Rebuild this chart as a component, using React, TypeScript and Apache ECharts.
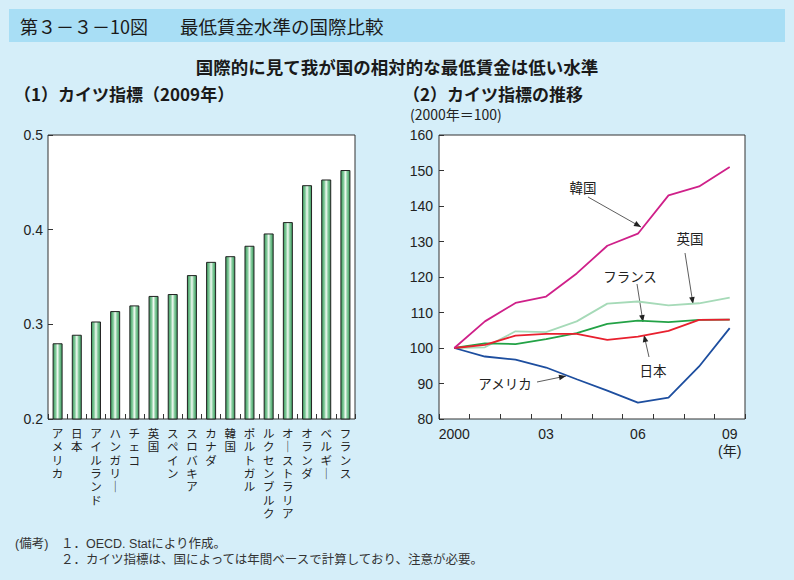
import React, { useEffect, useRef } from "react";
import * as echarts from "echarts";

const countries = [
  "アメリカ", "日本", "アイルランド", "ハンガリー", "チェコ", "英国", "スペイン", "スロバキア",
  "カナダ", "韓国", "ポルトガル", "ルクセンブルク", "オーストラリア", "オランダ", "ベルギー", "フランス",
];
const kaitz2009 = [0.28, 0.289, 0.303, 0.314, 0.32, 0.33, 0.332, 0.352, 0.366, 0.372, 0.383, 0.396, 0.408, 0.447, 0.453, 0.463];

const years = ["2000", "2001", "2002", "2003", "2004", "2005", "2006", "2007", "2008", "2009"];
const yearLabels = ["2000", "", "", "03", "", "", "06", "", "", "09\n(年)"];
const korea = [100, 107.5, 112.7, 114.5, 121.0, 128.8, 132.2, 143.0, 145.5, 151.0];
const uk = [100, 100.2, 104.7, 104.5, 107.5, 112.5, 113.1, 112.0, 112.6, 114.2];
const france = [100, 101.3, 101.1, 102.5, 104.2, 106.8, 107.7, 107.3, 107.9, 108.0];
const japan = [100, 100.9, 103.5, 104.0, 104.0, 102.3, 103.2, 104.8, 107.9, 108.0];
const usa = [100, 97.6, 96.7, 94.5, 91.2, 88.0, 84.6, 86.0, 94.8, 105.6];

const FONT = "'Liberation Sans', 'Noto Sans CJK JP', sans-serif";
const JFONT = "'Noto Sans CJK JP', 'Liberation Sans', sans-serif";

function arrowHead(x1: number, y1: number, x2: number, y2: number) {
  const a = Math.atan2(y2 - y1, x2 - x1);
  const L = 7, W = 2.8;
  const bx = x2 - L * Math.cos(a), by = y2 - L * Math.sin(a);
  return [
    [x2, y2],
    [bx - W * Math.sin(a), by + W * Math.cos(a)],
    [bx + W * Math.sin(a), by - W * Math.cos(a)],
  ];
}

function annotation(label: string, tx: number, ty: number, x1: number, y1: number, x2: number, y2: number) {
  return [
    { type: "text", x: tx, y: ty, style: { text: label, fontSize: 13.5, fontFamily: JFONT, fill: "#222", align: "center", verticalAlign: "middle" } },
    { type: "line", shape: { x1, y1, x2, y2 }, style: { stroke: "#333", lineWidth: 0.8 } },
    { type: "polygon", shape: { points: arrowHead(x1, y1, x2, y2) }, style: { fill: "#222" } },
  ];
}

export default function App() {
  const ref = useRef<HTMLDivElement>(null);
  useEffect(() => {
    if (!ref.current) return;
    const chart = echarts.init(ref.current, undefined, { renderer: "svg" });
    const barGradient = {
      type: "linear", x: 0, y: 0, x2: 1, y2: 0,
      colorStops: [
        { offset: 0, color: "#3a9a5c" },
        { offset: 0.3, color: "#86cc9e" },
        { offset: 0.5, color: "#f2faf3" },
        { offset: 0.7, color: "#86cc9e" },
        { offset: 1, color: "#3a9a5c" },
      ],
    };
    const lineSeries = (name: string, data: number[], color: string) => ({
      name, type: "line", xAxisIndex: 1, yAxisIndex: 1, data,
      symbol: "none", lineStyle: { color, width: 1.8 }, itemStyle: { color },
    });
    chart.setOption({
      animation: false,
      backgroundColor: "#d5eef9",
      textStyle: { fontFamily: FONT },
      grid: [
        { left: 48, top: 135, width: 307, height: 284, show: true, backgroundColor: "#ffffff", borderColor: "#333", borderWidth: 1 },
        { left: 439, top: 135, width: 306, height: 284, show: true, backgroundColor: "#ffffff", borderColor: "#333", borderWidth: 1 },
      ],
      xAxis: [
        {
          type: "category", gridIndex: 0, data: countries,
          axisLine: { show: false },
          axisTick: { show: true, inside: true, length: 5, lineStyle: { color: "#333" } },
          axisLabel: {
            interval: 0, margin: 8, fontSize: 11.5, lineHeight: 13.4, color: "#222", fontFamily: FONT,
            verticalAlign: "top",
            formatter: (v: string) => v.replace(/ー/g, "｜").split("").join("\n"),
          },
        },
        {
          type: "category", gridIndex: 1, data: years, boundaryGap: true,
          axisLine: { show: false },
          axisTick: { show: true, inside: true, length: 5, interval: 0, lineStyle: { color: "#333" } },
          axisLabel: {
            interval: 0, margin: 6, fontSize: 14, lineHeight: 17, color: "#222", fontFamily: FONT,
            formatter: (_v: string, i: number) => yearLabels[i],
          },
        },
      ],
      yAxis: [
        {
          type: "value", gridIndex: 0, min: 0.2, max: 0.5, interval: 0.1,
          axisLine: { show: false }, splitLine: { show: false },
          axisTick: { show: true, inside: true, length: 5, lineStyle: { color: "#333" } },
          axisLabel: { fontSize: 14, color: "#222", margin: 5, formatter: (v: number) => v.toFixed(1) },
        },
        {
          type: "value", gridIndex: 1, min: 80, max: 160, interval: 10,
          axisLine: { show: false }, splitLine: { show: false },
          axisTick: { show: true, inside: true, length: 5, lineStyle: { color: "#333" } },
          axisLabel: { fontSize: 14, color: "#222", margin: 6 },
        },
      ],
      series: [
        {
          type: "bar", xAxisIndex: 0, yAxisIndex: 0, data: kaitz2009, barWidth: 10,
          itemStyle: { color: barGradient, borderColor: "#222", borderWidth: 1 },
        },
        lineSeries("英国", uk, "#a6dab8"),
        lineSeries("フランス", france, "#23a246"),
        lineSeries("アメリカ", usa, "#1d4e9f"),
        lineSeries("日本", japan, "#e8202e"),
        lineSeries("韓国", korea, "#cf2089"),
      ],
      graphic: [
        { type: "rect", shape: { x: 9, y: 9, width: 776, height: 33 }, style: { fill: "#a8def5" } },
        { type: "text", x: 20, y: 26, style: { text: "第３－３－10図", fontSize: 18, fontFamily: JFONT, fill: "#1a1a1a", verticalAlign: "middle" } },
        { type: "text", x: 180, y: 26, style: { text: "最低賃金水準の国際比較", fontSize: 18.5, fontFamily: JFONT, fill: "#1a1a1a", verticalAlign: "middle" } },
        { type: "text", x: 397, y: 66, style: { text: "国際的に見て我が国の相対的な最低賃金は低い水準", fontSize: 17.5, fontWeight: "bold", fontFamily: JFONT, fill: "#1a1a1a", align: "center", verticalAlign: "middle" } },
        { type: "text", x: 14, y: 93, style: { text: "（1）カイツ指標（2009年）", fontSize: 17, fontWeight: "bold", fontFamily: JFONT, fill: "#1a1a1a", verticalAlign: "middle" } },
        { type: "text", x: 403, y: 93, style: { text: "（2）カイツ指標の推移", fontSize: 17, fontWeight: "bold", fontFamily: JFONT, fill: "#1a1a1a", verticalAlign: "middle" } },
        { type: "text", x: 410, y: 114, style: { text: "(2000年＝100)", fontSize: 14, fontFamily: JFONT, fill: "#222", verticalAlign: "middle" } },
        ...annotation("韓国", 583, 187, 588, 197, 641, 227),
        ...annotation("英国", 690, 238, 685, 253, 693, 304),
        ...annotation("フランス", 630, 276, 637, 284, 643, 322),
        ...annotation("日本", 653, 370, 649, 357, 644, 335),
        ...annotation("アメリカ", 505, 383, 537, 382, 566, 376),
        { type: "text", x: 15, y: 544, style: { text: "(備考)", fontSize: 12.5, fontFamily: FONT, fill: "#333", verticalAlign: "middle" } },
        { type: "text", x: 61, y: 544, style: { text: "１．OECD. Statにより作成。", fontSize: 12.5, fontFamily: FONT, fill: "#333", verticalAlign: "middle" } },
        { type: "text", x: 61, y: 560, style: { text: "２．カイツ指標は、国によっては年間ベースで計算しており、注意が必要。", fontSize: 12.5, fontFamily: FONT, fill: "#333", verticalAlign: "middle" } },
      ],
    });
    return () => chart.dispose();
  }, []);
  return <div ref={ref} style={{ position: "fixed", left: 0, top: 0, width: 794, height: 580 }} />;
}
